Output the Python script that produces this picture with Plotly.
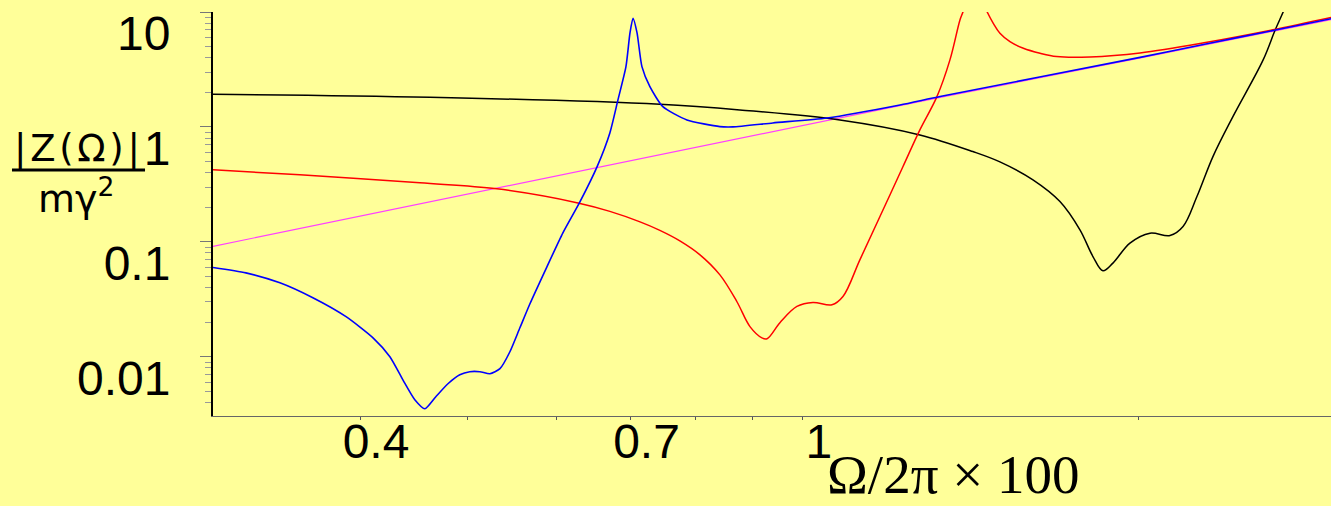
import math
import plotly.graph_objects as go

# ---- axis limits ----
X_MIN, X_MAX = 0.2951, 2.9815
Y_MIN, Y_MAX = 0.00305, 10.0

# ---- tick labels ----
x_tickvals = [0.4, 0.7, 1]
x_ticktext = ["0.4", "0.7", "1"]
x_minor = [0.5, 0.6, 0.8, 0.9, 2]
y_tickvals = [0.01, 0.1, 1, 10]
y_ticktext = ["0.01", "0.1", "1", "10"]
y_minor = [m * d for d in (0.001, 0.01, 0.1, 1) for m in range(2, 10)]

# ---- black curve ----
black_x = [0.2951, 0.4622, 0.7438, 0.8777, 1.0796, 1.2737, 1.4212, 1.5031, 1.6094,
           1.7018, 1.7737, 1.8220, 1.8600, 1.8989, 1.9669, 2.0502, 2.1369, 2.1953,
           2.2594, 2.3354, 2.4339, 2.5910, 2.6562, 2.7006, 2.7401]
black_y = [1.924, 1.812, 1.575, 1.406, 1.150, 0.852, 0.610, 0.496, 0.346,
           0.224, 0.127, 0.0745, 0.0560, 0.0653, 0.0975, 0.119, 0.1135, 0.136,
           0.248, 0.552, 1.229, 3.83, 6.97, 10.0, 14.0]

# ---- red curve (two branches, pole in between) ----
red_x = [0.2951, 0.3532, 0.4527, 0.5309, 0.6278, 0.6707, 0.7139, 0.7438, 0.7752,
         0.8082, 0.8422, 0.8724, 0.8962, 0.9187, 0.9284, 0.9535, 0.9876, 1.0209,
         1.0619, 1.0863, 1.1250, 1.1727, 1.2300, 1.2737, 1.3194, 1.3554, 1.3838,
         1.3924, 1.4011, None,
         1.4480, 1.4640, 1.4826, 1.5031, 1.5346, 1.5778, 1.6332, 1.6901, 1.8110,
         2.0083, 2.3067, 2.6446, 2.9815]
red_y = [0.423, 0.383, 0.326, 0.289, 0.218, 0.1841, 0.1492, 0.1259, 0.1020,
         0.0771, 0.0516, 0.0301, 0.0183, 0.0146, 0.01435, 0.0198, 0.0274, 0.0297,
         0.0283, 0.0334, 0.0697, 0.166, 0.452, 0.942, 1.834, 3.83, 8.52,
         10.0, 12.4, None,
         12.8, 10.0, 7.97, 6.53, 5.52, 4.83, 4.37, 4.09, 4.06,
         4.40, 5.45, 7.0, 8.95]

# ---- blue curve ----
blue_x = [0.2951, 0.3159, 0.3389, 0.3628, 0.3886, 0.4109, 0.4255, 0.4371, 0.4480,
          0.4574, 0.4679, 0.4798, 0.4917, 0.5020, 0.5126, 0.5233, 0.5343, 0.5454,
          0.5568, 0.5685, 0.5888, 0.6086, 0.6304, 0.6531, 0.6707, 0.6820, 0.6934,
          0.6992, 0.7036, 0.7095, 0.7167, 0.7286, 0.7484, 0.7866, 0.8422, 0.8652,
          0.9397, 1.0510, 1.2224, 1.3280, 2.0083, 2.3067, 2.6446, 2.9815]
blue_y = [0.0598, 0.0537, 0.0440, 0.0326, 0.0223, 0.0146, 0.0100, 0.0063, 0.00423,
          0.00353, 0.00449, 0.00582, 0.00697, 0.00741, 0.00741, 0.00711, 0.00787, 0.01105,
          0.01787, 0.0289, 0.0606, 0.1198, 0.2228, 0.449, 0.887, 1.717, 3.345,
          6.57, 8.816, 6.57, 3.345, 2.241, 1.501, 1.150, 1.006, 1.0,
          1.083, 1.197, 1.553, 1.84, 4.03, 5.30, 6.90, 8.75]

# ---- magenta curve (asymptote) ----
mag_x = [0.2951, 0.714, 1.328, 2.0, 2.9815]
mag_y = [0.0914, 0.526, 1.806, 3.95, 8.6]

BG = "#FFFF99"

fig = go.Figure()
fig.add_trace(go.Scatter(x=mag_x, y=mag_y, mode="lines",
                         line=dict(color="#ff40ff", width=1.2)))
fig.add_trace(go.Scatter(x=black_x, y=black_y, mode="lines",
                         line=dict(color="black", width=1.5, shape="spline", smoothing=1.0)))
fig.add_trace(go.Scatter(x=red_x, y=red_y, mode="lines", connectgaps=False,
                         line=dict(color="#ff0000", width=1.5, shape="spline", smoothing=1.0)))
fig.add_trace(go.Scatter(x=blue_x, y=blue_y, mode="lines",
                         line=dict(color="#0000ff", width=1.6, shape="spline", smoothing=0.6)))

fig.update_layout(
    width=1331, height=506,
    margin=dict(l=213, r=0, t=12, b=90, autoexpand=False),
    paper_bgcolor=BG, plot_bgcolor=BG,
    showlegend=False,
)
fig.update_xaxes(
    type="log", range=[math.log10(X_MIN), math.log10(X_MAX)],
    automargin=False,
    tickmode="array", tickvals=x_tickvals, ticktext=x_ticktext,
    ticks="outside", ticklen=3, tickcolor="#555", tickwidth=1,
    minor=dict(tickmode="array", tickvals=x_minor, ticks="outside",
               ticklen=3, tickcolor="#555", tickwidth=1),
    showline=True, linecolor="#666", linewidth=1,
    showgrid=False, zeroline=False,
    tickfont=dict(family="Liberation Sans", size=48, color="black"),
    ticklabelstandoff=-20, ticklabelshift=16,
)
fig.update_yaxes(
    type="log", range=[math.log10(Y_MIN), math.log10(Y_MAX)],
    automargin=False,
    tickmode="array", tickvals=y_tickvals, ticktext=y_ticktext,
    ticks="outside", ticklen=11, tickcolor="#777", tickwidth=1,
    minor=dict(tickmode="array", tickvals=y_minor, ticks="outside",
               ticklen=6, tickcolor="#999", tickwidth=1),
    showline=True, linecolor="black", linewidth=2,
    showgrid=False, zeroline=False,
    tickfont=dict(family="Liberation Sans", size=48, color="black"),
    ticklabelstandoff=20, ticklabelshift=21,
)

# x-axis title
fig.add_annotation(text="Ω/2π × 100", xref="paper", yref="paper",
                   x=0.662, y=-0.1436, xanchor="center", yanchor="middle",
                   showarrow=False,
                   font=dict(family="Liberation Serif", size=55, color="black"))
# y-axis title as a fraction
fig.add_annotation(text="|\u200aZ\u200a(\u200aΩ\u200a)\u200a|", xref="paper", yref="paper",
                   x=-0.1212, y=0.663, xanchor="center", yanchor="middle",
                   showarrow=False,
                   font=dict(family="DejaVu Sans", size=37, color="black"))
fig.add_annotation(text="mγ<sup>2</sup>", xref="paper", yref="paper",
                   x=-0.1225, y=0.545, xanchor="center", yanchor="middle",
                   showarrow=False,
                   font=dict(family="DejaVu Sans", size=38, color="black"))
fig.add_shape(type="line", xref="paper", yref="paper",
              x0=-0.1798, x1=-0.0608, y0=0.609, y1=0.609,
              line=dict(color="black", width=3))

fig.write_html("out.html", config={"displayModeBar": False},
               post_script="document.body.style.margin='0';")
